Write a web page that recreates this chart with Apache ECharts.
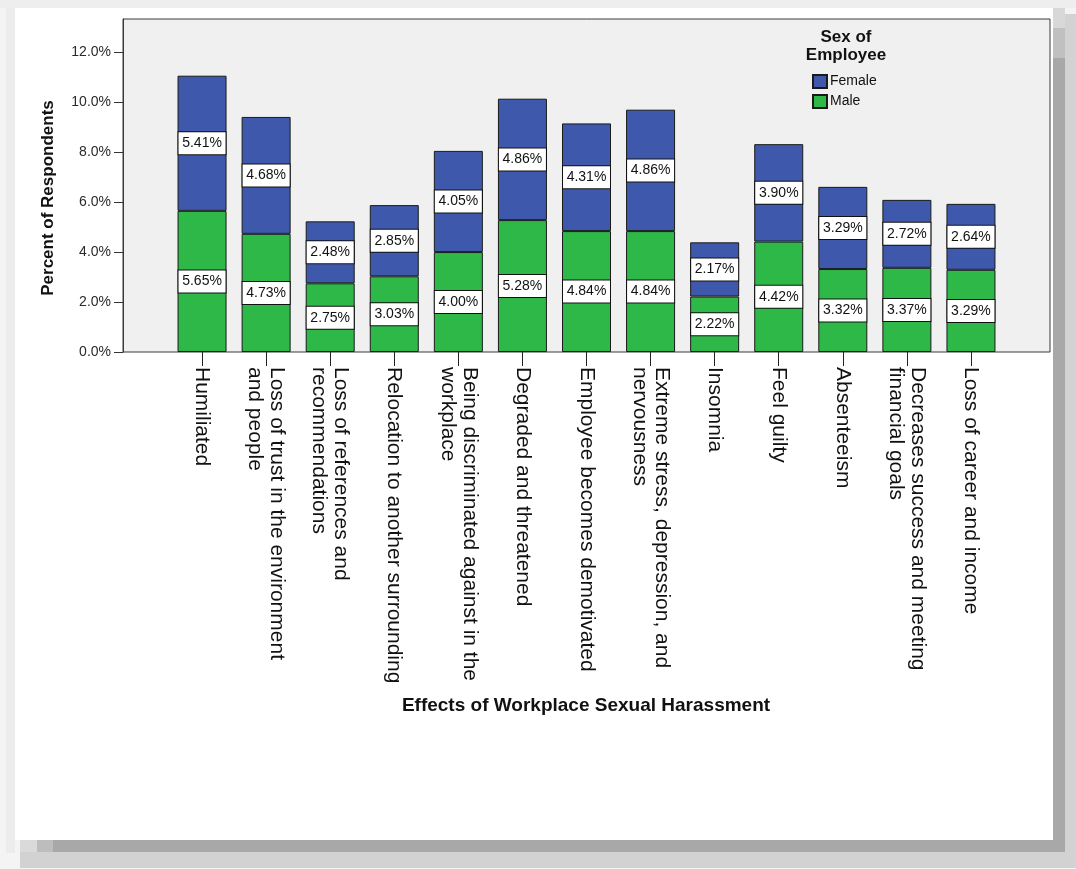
<!DOCTYPE html>
<html>
<head>
<meta charset="utf-8">
<script src="https://cdn.jsdelivr.net/npm/echarts@6/dist/echarts.min.js"></script>
<style>
  html, body { margin: 0; padding: 0; }
  body { width: 1076px; height: 869px; background: #f4f4f4; position: relative; overflow: hidden; }
  .frame { position: absolute; }
  #chart { position: absolute; left: 0; top: 0; width: 1076px; height: 869px; }
</style>
</head>
<body>
<div class="frame" style="left:0;top:0;width:1076px;height:8px;background:#eeeeee;"></div>
<div class="frame" style="left:6px;top:8px;width:9px;height:845px;background:#ececec;"></div>
<div class="frame" style="left:1053px;top:8px;width:12px;height:20px;background:#d8d8d8;"></div>
<div class="frame" style="left:1053px;top:28px;width:12px;height:30px;background:#c0c0c0;"></div>
<div class="frame" style="left:1053px;top:58px;width:12px;height:794px;background:#a8a8a8;"></div>
<div class="frame" style="left:1065px;top:14px;width:11px;height:854px;background:#d2d2d2;"></div>
<div class="frame" style="left:20px;top:840px;width:17px;height:12px;background:#dadada;"></div>
<div class="frame" style="left:37px;top:840px;width:16px;height:12px;background:#bdbdbd;"></div>
<div class="frame" style="left:53px;top:840px;width:1000px;height:12px;background:#a8a8a8;"></div>
<div class="frame" style="left:20px;top:852px;width:1056px;height:16px;background:#d2d2d2;"></div>
<div class="frame" style="left:15px;top:8px;width:1038px;height:832px;background:#ffffff;"></div>
<div id="chart"></div>
<script>
// ---- data ----
const categories = [
  'Humiliated',
  'Loss of trust in the environment\nand people',
  'Loss of references and\nrecommendations',
  'Relocation to another surrounding',
  'Being discriminated against in the\nworkplace',
  'Degraded and threatened',
  'Employee becomes demotivated',
  'Extreme stress, depression, and\nnervousness',
  'Insomnia',
  'Feel guilty',
  'Absenteeism',
  'Decreases success and meeting\nfinancial goals',
  'Loss of career and income'
];
const maleValues   = [5.65, 4.73, 2.75, 3.03, 4.00, 5.28, 4.84, 4.84, 2.22, 4.42, 3.32, 3.37, 3.29];
const femaleValues = [5.41, 4.68, 2.48, 2.85, 4.05, 4.86, 4.31, 4.86, 2.17, 3.90, 3.29, 2.72, 2.64];
const yTicks = [0, 2, 4, 6, 8, 10, 12];
const seriesNames = ['Female', 'Male'];
const yMax = 13.33;

// ---- chart ----
const FONT = '"Liberation Sans", Arial, sans-serif';
const chart = echarts.init(document.getElementById('chart'), null, { renderer: 'canvas' });

const labelStyle = {
  show: true,
  position: 'inside',
  formatter: p => p.value.toFixed(2) + '%',
  backgroundColor: '#ffffff',
  borderColor: '#111111',
  borderWidth: 1,
  padding: [4, 2, 3, 2],
  width: 43,
  align: 'center',
  fontSize: 14,
  lineHeight: 15,
  color: '#111111',
  fontFamily: FONT
};

chart.setOption({
  animation: false,
  textStyle: { fontFamily: FONT },
  grid: [
    { left: 123, top: 19, width: 927, height: 333, show: true, backgroundColor: '#f0f0f0', borderColor: '#3a3a3a', borderWidth: 1, containLabel: false },
    { left: 170, top: 19, width: 833, height: 333, show: false, containLabel: false }
  ],
  xAxis: [
    { type: 'value', gridIndex: 0, min: 0, max: 1, show: false },
    {
      type: 'category', gridIndex: 1, data: categories,
      axisLine: { show: false },
      axisTick: { show: true, alignWithLabel: true, length: 14, lineStyle: { color: '#222', width: 1 } },
      axisLabel: { rotate: -90, interval: 0, margin: 15, fontSize: 21, lineHeight: 22, color: '#111', fontFamily: FONT }
    }
  ],
  yAxis: [
    {
      type: 'value', gridIndex: 0, min: 0, max: yMax, interval: 2,
      splitLine: { show: false },
      axisLine: { show: true, lineStyle: { color: '#3a3a3a' } },
      axisTick: { show: true, length: 9, customValues: yTicks, lineStyle: { color: '#333' } },
      axisLabel: { customValues: yTicks, margin: 12, fontSize: 14, color: '#2a2a2a', fontFamily: FONT,
        formatter: v => v.toFixed(1) + '%' }
    },
    { type: 'value', gridIndex: 1, min: 0, max: yMax, show: false }
  ],
  legend: {
    data: seriesNames,
    orient: 'vertical',
    left: 812, top: 74,
    itemWidth: 14, itemHeight: 13, itemGap: 5,
    padding: 0,
    icon: 'rect',
    textStyle: { fontSize: 14, color: '#111', fontFamily: FONT, padding: [0, 0, 0, -2] }
  },
  series: [
    {
      name: 'Male', type: 'bar', stack: 'sex', xAxisIndex: 1, yAxisIndex: 1,
      data: maleValues, barWidth: 49,
      itemStyle: { color: '#2EB848', borderColor: '#1a1a1a', borderWidth: 1 },
      label: labelStyle
    },
    {
      name: 'Female', type: 'bar', stack: 'sex', xAxisIndex: 1, yAxisIndex: 1,
      data: femaleValues, barWidth: 49,
      itemStyle: { color: '#3E58AC', borderColor: '#1a1a1a', borderWidth: 1 },
      label: labelStyle
    }
  ],
  graphic: [
    {
      type: 'text', x: 48, y: 198, rotation: Math.PI / 2, z: 10,
      style: { text: 'Percent of Respondents', font: 'bold 17px ' + FONT, fill: '#111', textAlign: 'center', textVerticalAlign: 'middle' }
    },
    {
      type: 'text', x: 586, y: 706, z: 10,
      style: { text: 'Effects of Workplace Sexual Harassment', font: 'bold 19px ' + FONT, fill: '#111', textAlign: 'center', textVerticalAlign: 'middle' }
    },
    {
      type: 'text', x: 846, y: 28, z: 10,
      style: { text: 'Sex of\nEmployee', font: 'bold 17px ' + FONT, lineHeight: 18, fill: '#111', textAlign: 'center', textVerticalAlign: 'top' }
    }
  ]
});
</script>
</body>
</html>
